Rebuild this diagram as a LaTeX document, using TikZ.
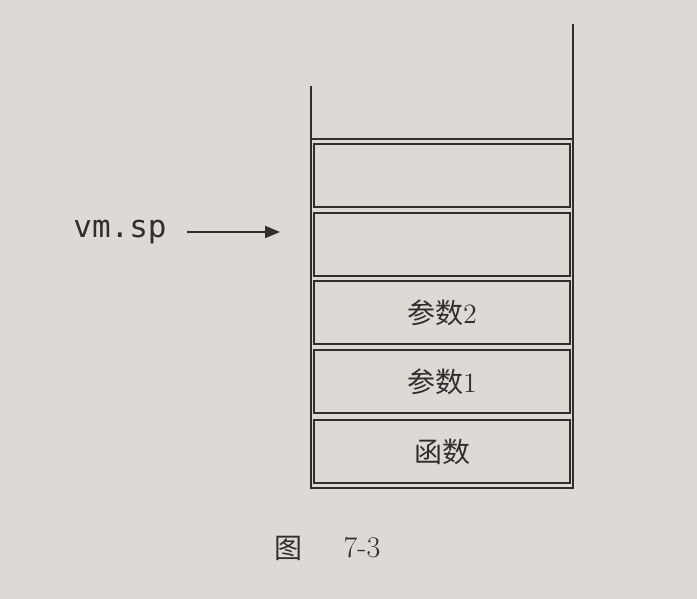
\documentclass[tikz,border=0pt]{standalone}
\usepackage{fontspec}
\setmonofont{DejaVu Sans Mono}
\newfontfamily\cjk{Noto Sans CJK SC}
\usetikzlibrary{arrows.meta}
\definecolor{paper}{RGB}{221,218,214}
\definecolor{ink}{RGB}{50,46,46}
\tikzset{
	wall/.style = {ink, line width=1.2pt},
	slot/.style = {draw=ink, line width=1.2pt, minimum width=128pt, minimum height=31.5pt, inner sep=0pt, font=\fontsize{14}{16}\selectfont, text=ink},
	ptr/.style = {ink, line width=1.1pt, -{Triangle[length=7.5pt,width=6pt]}}
}

\begin{document}
\begin{tikzpicture}[x=0.5pt, y=-0.5pt]
	\fill[paper] (0,0) rectangle (697,599);
	\useasboundingbox (0,0) rectangle (697,599);
	% the stack walls and its lid
	\draw[wall] (311,86) -- (311,488) -- (573,488) -- (573,24);
	\draw[wall] (311,139) -- (573,139);
	% slots, top to bottom
	\node[slot] (s1) at (442,175.5) {};
	\node[slot] (s2) at (442,244.5) {};
	\node[slot] (s3) at (442,312.5) {{\cjk 参数}2};
	\node[slot] (s4) at (442,381.5) {{\cjk 参数}1};
	\node[slot] (s5) at (442,451.5) {\cjk 函数};
	% stack pointer
	\node[inner sep=0pt, text=ink, font=\ttfamily\fontsize{15.5}{18}\selectfont] (vm) at (120,232) {vm.sp};
	\coordinate (sp) at (280,232);
	\draw[ptr] (vm.east) ++(10pt,0) -- (sp);
	% caption
	\node[text=ink, font=\fontsize{14}{16}\selectfont] (fig) at (288,548) {\cjk 图};
	\node[text=ink, font=\fontsize{15}{17}\selectfont] (num) at (362,548) {7-3};
\end{tikzpicture}
\end{document}
